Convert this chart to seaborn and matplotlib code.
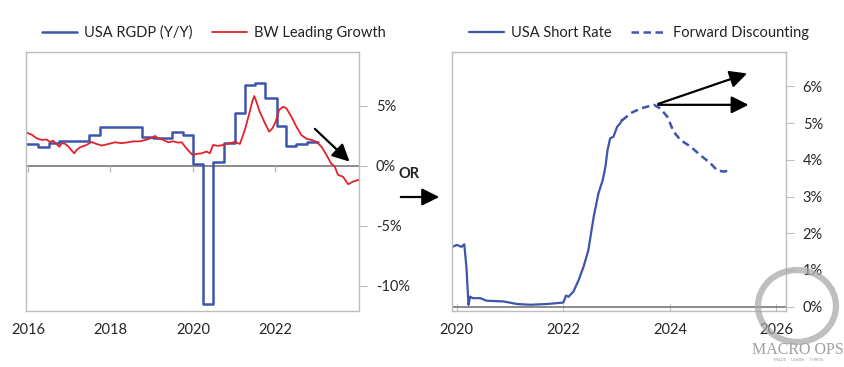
import numpy as np
import pandas as pd
import matplotlib
matplotlib.use("Agg")
import matplotlib.pyplot as plt
import seaborn as sns
from matplotlib.patches import Ellipse
from matplotlib.ticker import FuncFormatter

# ---- left panel data: US real GDP (quarterly, step) and BW leading growth ----
gdp_years = [2015.95, 2016.23, 2016.52, 2016.76, 2017.01, 2017.25, 2017.49, 2017.75,
             2018.0, 2018.26, 2018.51, 2018.76, 2019.04, 2019.26, 2019.5, 2019.77,
             2020.01, 2020.25, 2020.49, 2020.75, 2021.02, 2021.26, 2021.5, 2021.76,
             2022.03, 2022.27, 2022.51, 2022.76, 2023.04]
gdp_values = [1.8, 1.6, 1.9, 2.05, 2.05, 2.05, 2.6, 3.25,
              3.25, 3.25, 3.25, 2.4, 2.3, 2.3, 2.85, 2.6,
              0.2, -11.5, 0.3, 1.9, 4.4, 6.75, 6.9, 5.7,
              3.3, 1.7, 1.8, 2.0, 2.0]

lead_years = [2015.95, 2016.09, 2016.21, 2016.33, 2016.45, 2016.53, 2016.61, 2016.69,
              2016.76, 2016.82, 2016.90, 2016.98, 2017.06, 2017.12, 2017.18, 2017.26,
              2017.42, 2017.54, 2017.66, 2017.79, 2017.95, 2018.11, 2018.27, 2018.43,
              2018.55, 2018.72, 2018.88, 2019.00, 2019.08, 2019.16, 2019.28, 2019.40,
              2019.52, 2019.64, 2019.73, 2019.81, 2019.89, 2019.99, 2020.09, 2020.21,
              2020.33, 2020.41, 2020.49, 2020.61, 2020.74, 2020.90, 2021.02, 2021.14,
              2021.26, 2021.37, 2021.44, 2021.49, 2021.54, 2021.62, 2021.75, 2021.85,
              2021.93, 2022.01, 2022.09, 2022.19, 2022.27, 2022.39, 2022.51, 2022.63,
              2022.76, 2022.88, 2023.00, 2023.12, 2023.24, 2023.35, 2023.44, 2023.52,
              2023.64, 2023.77, 2023.89, 2024.02]
lead_values = [2.8, 2.6, 2.3, 2.17, 2.2, 2.0, 2.1, 1.83,
               1.6, 1.9, 1.85, 1.6, 1.28, 1.05, 1.33, 1.55,
               1.75, 2.0, 1.83, 1.7, 1.83, 1.97, 1.9, 1.97,
               2.05, 2.05, 2.2, 2.33, 2.5, 2.3, 2.17, 1.97,
               2.05, 1.94, 1.97, 1.6, 1.28, 0.92, 1.0, 1.05,
               1.2, 1.05, 1.75, 1.67, 1.75, 1.9, 2.0, 1.83,
               3.0, 4.4, 5.36, 5.83, 5.36, 4.53, 3.55, 2.86,
               3.14, 3.7, 4.67, 4.94, 4.8, 4.1, 3.28, 2.58,
               2.25, 2.17, 2.0, 1.6, 0.92, 0.22, -0.05, -0.75,
               -0.9, -1.53, -1.3, -1.17]

# ---- right panel data: US short rate and forward curve ----
rate_years = [2019.92, 2020.0, 2020.09, 2020.14, 2020.18, 2020.22, 2020.25, 2020.30,
              2020.44, 2020.56, 2020.88, 2021.13, 2021.38, 2021.69, 2022.0, 2022.05,
              2022.10, 2022.19, 2022.29, 2022.38, 2022.47, 2022.57, 2022.66, 2022.74,
              2022.79, 2022.83, 2022.88, 2022.94, 2023.01, 2023.07, 2023.10]
rate_values = [1.63, 1.68, 1.63, 1.70, 1.09, 0.05, 0.27, 0.23,
               0.23, 0.16, 0.14, 0.07, 0.05, 0.07, 0.11, 0.3,
               0.27, 0.41, 0.73, 1.09, 1.54, 2.45, 3.09, 3.45,
               3.81, 4.27, 4.59, 4.63, 4.9, 5.0, 5.09]

fwd_years = [2023.10, 2023.26, 2023.45, 2023.70, 2023.82, 2023.95, 2024.07, 2024.20,
             2024.39, 2024.57, 2024.76, 2024.89, 2025.01, 2025.14]
fwd_values = [5.07, 5.27, 5.4, 5.5, 5.4, 5.18, 4.77, 4.54,
              4.36, 4.13, 3.91, 3.71, 3.68, 3.72]

left_xticks = [2016, 2018, 2020, 2022]
left_yticks = [-10, -5, 0, 5]
right_xticks = [2020, 2022, 2024, 2026]
right_yticks = [0, 1, 2, 3, 4, 5, 6]

BLUE = "#3D55AA"
RED = "#E3222B"
GRID = "#BDBDBD"

sns.set_style("white")
plt.rcParams["font.family"] = ["Lato", "DejaVu Sans"]
plt.rcParams["font.size"] = 10.5
plt.rcParams["text.color"] = "#222222"

W, H = 844, 367
fig = plt.figure(figsize=(W / 100, H / 100), dpi=100)
ax1 = fig.add_axes([26 / W, 56 / H, 333 / W, 259 / H])
ax2 = fig.add_axes([452 / W, 56 / H, 334 / W, 259 / H])

pct = FuncFormatter(lambda v, p: f"{v:g}%".replace("\u2212", "-"))
arrow = dict(arrowstyle="-|>", color="black", lw=1.6, mutation_scale=26)

# ---- left panel ----
sns.lineplot(x=gdp_years, y=gdp_values, ax=ax1, color=BLUE, lw=1.8,
             drawstyle="steps-post", label="USA RGDP (Y/Y)")
sns.lineplot(x=lead_years, y=lead_values, ax=ax1, color=RED, lw=1.3,
             label="BW Leading Growth")
ax1.axhline(0, color="#777777", lw=1.2, zorder=1)
ax1.vlines(left_xticks, -0.5, 0, color=GRID, lw=1)
ax1.set_xlim(2015.95, 2024.03)
ax1.set_ylim(-12.1, 9.5)
ax1.set_xticks(left_xticks)
ax1.set_yticks(left_yticks)
ax1.yaxis.set_major_formatter(pct)
ax1.yaxis.tick_right()
ax1.tick_params(axis="y", right=True, length=6, color=GRID, pad=6, labelsize=10.5)
ax1.tick_params(axis="x", bottom=False, length=0, pad=9, labelsize=10.5)
ax1.annotate("", xy=(2023.85, 0.2), xytext=(2022.91, 3.25), arrowprops=arrow)
ax1.legend(loc="center", bbox_to_anchor=(214 / W, 1 - 33 / H), bbox_transform=fig.transFigure,
           ncol=2, frameon=False, handlelength=2.4, handletextpad=0.5, columnspacing=1.3,
           fontsize=10.5)

# ---- right panel ----
sns.lineplot(x=rate_years, y=rate_values, ax=ax2, color=BLUE, lw=1.6, label="USA Short Rate")
sns.lineplot(x=fwd_years, y=fwd_values, ax=ax2, color=BLUE, lw=1.8,
             label="Forward Discounting")
ax2.lines[-1].set_dashes((3, 1.8))
ax2.axhline(0, color="#777777", lw=1.2, zorder=1)
ax2.set_xlim(2019.91, 2026.18)
ax2.set_ylim(-0.12, 6.94)
ax2.set_xticks(right_xticks)
ax2.set_yticks(right_yticks)
ax2.yaxis.set_major_formatter(pct)
ax2.yaxis.tick_right()
ax2.tick_params(axis="y", right=True, length=6, color=GRID, pad=6, labelsize=10.5)
ax2.tick_params(axis="x", bottom=True, direction="in", length=5, color=GRID, pad=9,
                labelsize=10.5)
for end in [(2025.5, 6.38), (2025.53, 5.5)]:
    ax2.annotate("", xy=end, xytext=(2023.73, 5.5), arrowprops=arrow)
handles, labels = ax2.get_legend_handles_labels()
ax2.legend(handles, labels, loc="center", bbox_to_anchor=(639 / W, 1 - 33 / H),
           bbox_transform=fig.transFigure, ncol=2, frameon=False, handlelength=2.4,
           handletextpad=0.5, columnspacing=1.3, fontsize=10.5)

for ax in (ax1, ax2):
    ax.set_xlabel("")
    ax.set_ylabel("")
    for s in ax.spines.values():
        s.set_color(GRID)
        s.set_linewidth(1)

# ---- "OR" connector ----
fig.text(409 / W, 1 - 174 / H, "OR", ha="center", va="center", fontsize=10.5,
         fontweight="bold")
fig.add_artist(plt.Annotation("", xy=(442 / W, 1 - 197 / H), xytext=(398 / W, 1 - 197 / H),
                              xycoords="figure fraction", arrowprops=arrow))

# ---- watermark ----
fig.add_artist(Ellipse((7.97, 0.61), 0.78, 0.72, transform=fig.dpi_scale_trans, fill=False,
                       lw=4.5, color="#a5a5a5", alpha=0.7))
fig.text(798 / W, 1 - 350 / H, "MACRO OPS", ha="center", va="center", fontsize=11.5,
         family="Liberation Serif", color="#a0a0a0")
fig.text(798 / W, 1 - 360 / H, "TRADE  \u00b7  LEARN  \u00b7  THRIVE", ha="center",
         va="center", fontsize=3, color="#a0a0a0")

fig.savefig("out.png", dpi=100)
